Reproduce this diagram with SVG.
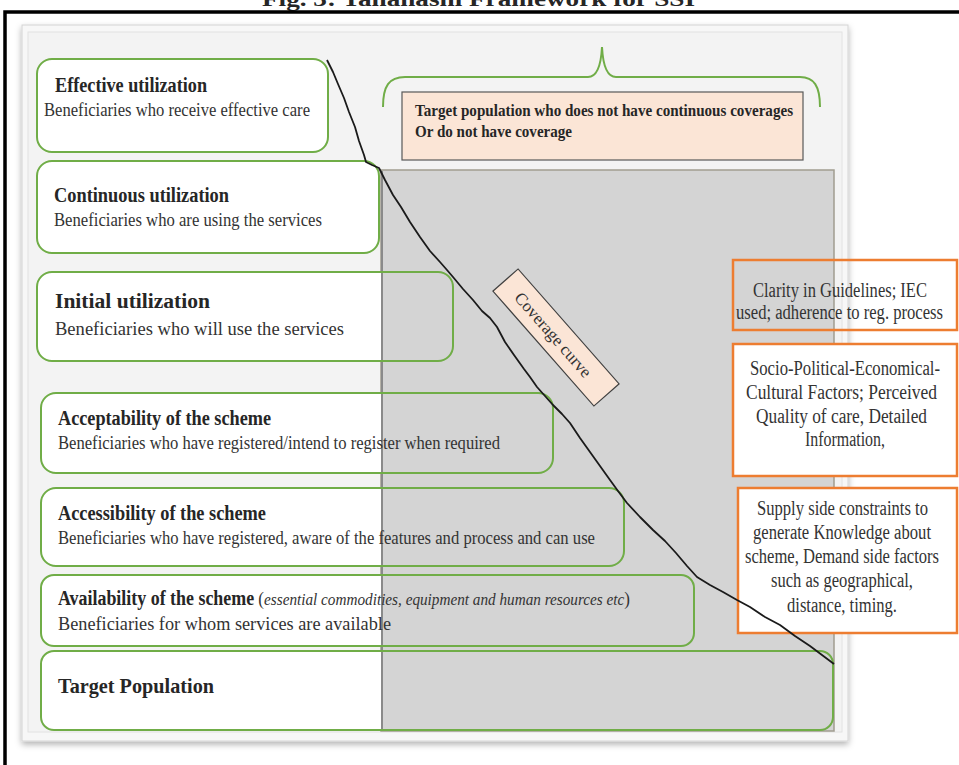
<svg xmlns="http://www.w3.org/2000/svg" width="959" height="765" viewBox="0 0 959 765">
<style>
.box{fill:none;stroke:#70ad47;stroke-width:2}
.bf{fill:#ffffff}
.t{font-family:"Liberation Serif","Times New Roman",serif;font-weight:bold;font-size:20px;fill:#262626}
.s{font-family:"Liberation Serif","Times New Roman",serif;font-size:19px;fill:#333333}
.i{font-family:"Liberation Serif","Times New Roman",serif;font-style:italic;font-weight:normal;font-size:17px;fill:#333333}
.r{font-family:"Liberation Serif","Times New Roman",serif;font-style:normal;font-weight:normal;font-size:19px;fill:#333333}
.ob{stroke:#ed7d31;stroke-width:2.5}
.ot{font-family:"Liberation Serif","Times New Roman",serif;font-size:20px;fill:#333333}
.pt{font-family:"Liberation Serif","Times New Roman",serif;font-weight:bold;font-size:16px;fill:#262626}
</style>
<defs>
<clipPath id="leftside"><rect x="0" y="0" width="381" height="765"/></clipPath>
<filter id="sh" x="-5%" y="-5%" width="110%" height="110%">
<feDropShadow dx="0" dy="3" stdDeviation="3" flood-color="#000" flood-opacity="0.3"/>
</filter>
</defs>
<rect x="0" y="0" width="959" height="765" fill="#ffffff"/>
<text class="t" x="262" y="6" textLength="433" lengthAdjust="spacingAndGlyphs">Fig. 3: Tanahashi Framework for SSI</text>
<path d="M5,765 L5,12 L959,12" fill="none" stroke="#000" stroke-width="3.5"/>
<g id="panel">
<rect x="22" y="25" width="826" height="716" fill="#f7f7f7" stroke="#d4d4d4" stroke-width="1" filter="url(#sh)"/>
<rect x="28" y="32" width="814" height="700" fill="#f3f3f3" stroke="#e2e2e2" stroke-width="1"/>
</g>
<g id="gray-region">
<rect x="381" y="170" width="453" height="561" fill="#d4d4d4" stroke="#a19d90" stroke-width="1.5"/>
<line x1="382" y1="171" x2="382" y2="731" stroke="#8a8a8a" stroke-width="2"/>
</g>
<g id="effective">
<rect class="bf" clip-path="url(#leftside)" x="37" y="59" width="291" height="93" rx="15"/>
<rect class="box" x="37" y="59" width="291" height="93" rx="15"/>
<text class="t" x="55" y="92" textLength="152" lengthAdjust="spacingAndGlyphs">Effective utilization</text>
<text class="s" x="44" y="116" textLength="266" lengthAdjust="spacingAndGlyphs">Beneficiaries who receive effective care</text>
</g>
<g id="continuous">
<rect class="bf" clip-path="url(#leftside)" x="37" y="161" width="342" height="92" rx="15"/>
<rect class="box" x="37" y="161" width="342" height="92" rx="15"/>
<text class="t" x="54" y="202" textLength="175" lengthAdjust="spacingAndGlyphs">Continuous utilization</text>
<text class="s" x="54" y="226" textLength="268" lengthAdjust="spacingAndGlyphs">Beneficiaries who are using the services</text>
</g>
<g id="initial">
<rect class="bf" clip-path="url(#leftside)" x="37" y="272" width="416" height="89" rx="15"/>
<rect class="box" x="37" y="272" width="416" height="89" rx="15"/>
<text class="t" x="55" y="308" textLength="155" lengthAdjust="spacingAndGlyphs">Initial utilization</text>
<text class="s" x="55" y="335" textLength="289" lengthAdjust="spacingAndGlyphs">Beneficiaries who will use the services</text>
</g>
<g id="acceptability">
<rect class="bf" clip-path="url(#leftside)" x="41" y="393" width="512" height="80" rx="15"/>
<rect class="box" x="41" y="393" width="512" height="80" rx="15"/>
<text class="t" x="58" y="425" textLength="213" lengthAdjust="spacingAndGlyphs">Acceptability of the scheme</text>
<text class="s" x="58" y="449" textLength="442" lengthAdjust="spacingAndGlyphs">Beneficiaries who have registered/intend to register when required</text>
</g>
<g id="accessibility">
<rect class="bf" clip-path="url(#leftside)" x="41" y="488" width="583" height="78" rx="15"/>
<rect class="box" x="41" y="488" width="583" height="78" rx="15"/>
<text class="t" x="58" y="520" textLength="208" lengthAdjust="spacingAndGlyphs">Accessibility of the scheme</text>
<text class="s" x="58" y="544" textLength="537" lengthAdjust="spacingAndGlyphs">Beneficiaries who have registered, aware of the features and process and can use</text>
</g>
<g id="availability">
<rect class="bf" clip-path="url(#leftside)" x="41" y="575" width="653" height="71" rx="13"/>
<rect class="box" x="41" y="575" width="653" height="71" rx="13"/>
<text class="t" x="58" y="605" textLength="572" lengthAdjust="spacingAndGlyphs">Availability of the scheme<tspan class="r"> (</tspan><tspan class="i">essential commodities, equipment and human resources etc</tspan><tspan class="r">)</tspan></text>
<text class="s" x="58" y="630" textLength="333" lengthAdjust="spacingAndGlyphs">Beneficiaries for whom services are available</text>
</g>
<g id="target">
<rect class="bf" clip-path="url(#leftside)" x="41" y="651" width="792" height="79" rx="13"/>
<rect class="box" x="41" y="651" width="792" height="79" rx="13"/>
<text class="t" x="58" y="693" textLength="156" lengthAdjust="spacingAndGlyphs" style="font-size:22px">Target Population</text>
</g>
<g id="uncovered">
<path d="M383,107 C383,86 389,77 405,77 L588,77 C597,77 601,66 602,47 C603,66 607,77 616,77 L800,77 C814,77 820,86 820,107" fill="none" stroke="#70ad47" stroke-width="2"/>
<rect x="402" y="92" width="401" height="68" fill="#fbe5d6" stroke="#595959" stroke-width="1.2"/>
<text class="pt" x="415" y="116" textLength="378" lengthAdjust="spacingAndGlyphs">Target population who does not have continuous coverages</text>
<text class="pt" x="415" y="137" textLength="157" lengthAdjust="spacingAndGlyphs">Or do not have coverage</text>
</g>
<g id="coverage-label" transform="translate(556,337.5) rotate(48.7)">
<rect x="-76.5" y="-16.75" width="153" height="33.5" fill="#fbe5d6" stroke="#404040" stroke-width="1.2"/>
<text class="ot" x="-4" y="6" text-anchor="middle" style="font-size:17px">Coverage curve</text>
</g>
<g id="factor-clarity">
<rect class="ob" x="733" y="260" width="224" height="70" fill="none"/>
<text class="ot" x="753" y="297" textLength="174" lengthAdjust="spacingAndGlyphs">Clarity in Guidelines; IEC</text>
<text class="ot" x="736" y="319" textLength="207" lengthAdjust="spacingAndGlyphs">used; adherence to reg. process</text>
</g>
<g id="factor-socio">
<rect class="ob" x="733" y="344" width="224" height="132" fill="#ffffff"/>
<text class="ot" x="750" y="375" textLength="190" lengthAdjust="spacingAndGlyphs">Socio-Political-Economical-</text>
<text class="ot" x="746" y="399" textLength="191" lengthAdjust="spacingAndGlyphs">Cultural Factors; Perceived</text>
<text class="ot" x="756" y="423" textLength="171" lengthAdjust="spacingAndGlyphs">Quality of care, Detailed</text>
<text class="ot" x="805" y="446" textLength="80" lengthAdjust="spacingAndGlyphs">Information,</text>
</g>
<g id="factor-supply">
<rect class="ob" x="738" y="488" width="219" height="145" fill="#ffffff"/>
<text class="ot" x="757" y="515" textLength="171" lengthAdjust="spacingAndGlyphs">Supply side constraints to</text>
<text class="ot" x="753" y="539" textLength="178" lengthAdjust="spacingAndGlyphs">generate Knowledge about</text>
<text class="ot" x="745" y="563" textLength="194" lengthAdjust="spacingAndGlyphs">scheme, Demand side factors</text>
<text class="ot" x="771" y="587" textLength="142" lengthAdjust="spacingAndGlyphs">such as geographical,</text>
<text class="ot" x="787" y="612" textLength="110" lengthAdjust="spacingAndGlyphs">distance, timing.</text>
</g>
<g id="connectors">
<path d="M327,60 L333,72 L338,84 L344,98 L349,112 L355,127 L359,141 L364,155 L366,162 L372,165 L379,168 L385,180 L393,195 L401,207 L410,222 L420,237 L430,251 L440,262 L447,270 L453,277 L463,289 L473,300 L482,311 L490,318 L497,327 L505,342 L514,355 L524,369 L530,377 L537,387 L545,396 L553,405 L562,414 L570,423 L580,438 L590,452 L600,466 L610,480 L618,491 L627,503 L640,517 L653,530 L665,541 L676,553 L687,566 L697,577 L710,585 L723,592 L737,600 L750,607 L765,617 L780,625 L795,636 L810,646 L822,655 L834,664" fill="none" stroke="#1a1a1a" stroke-width="1.8" stroke-linejoin="round"/>
</g>
</svg>
